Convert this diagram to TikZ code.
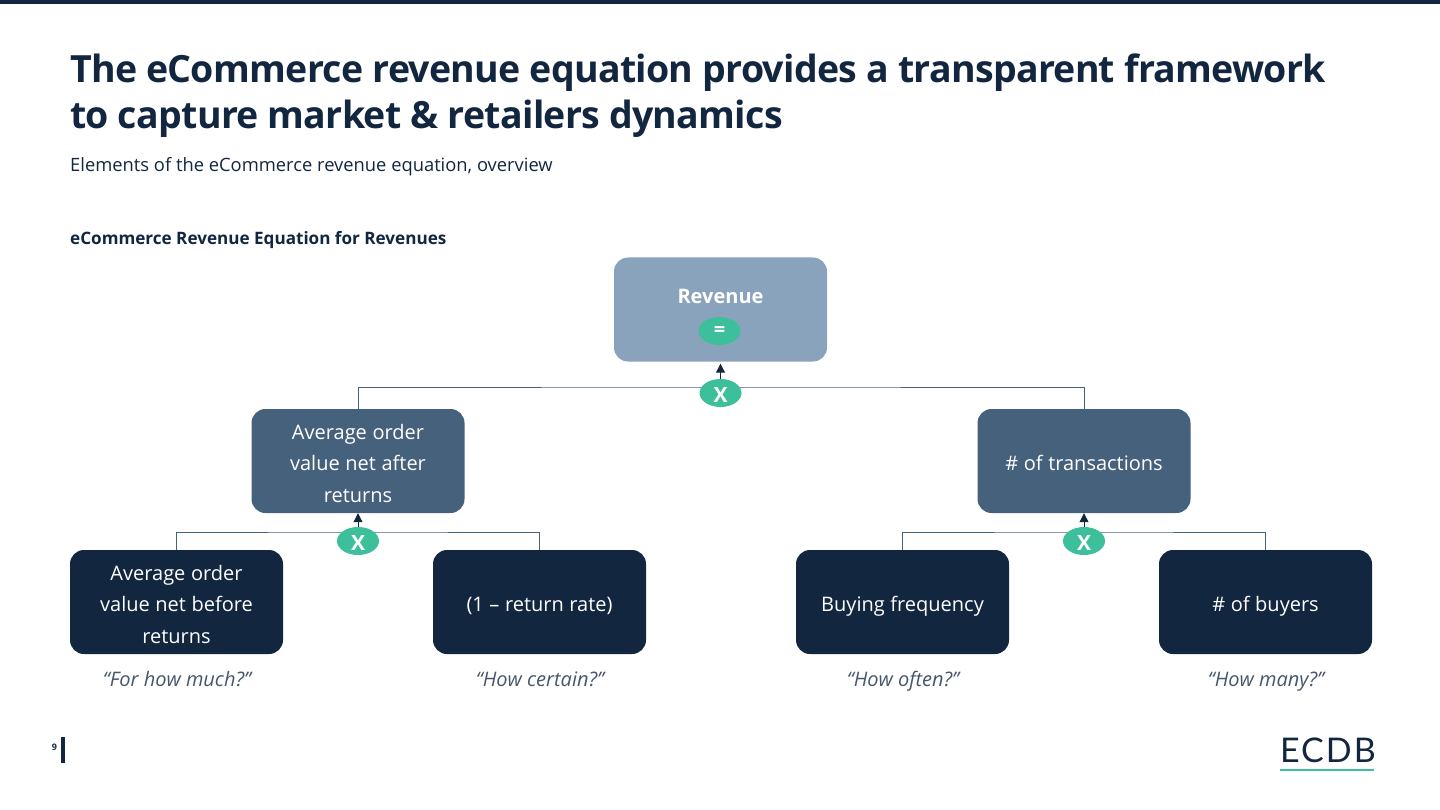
\documentclass[tikz,border=0pt]{standalone}
\usepackage{fontspec}
\setmainfont{Open Sans}
\newfontfamily\logofont[LetterSpace=6]{Lato}
\usetikzlibrary{shapes.geometric,positioning,backgrounds,arrows.meta}
\definecolor{ecdbdark}{HTML}{12263F}
\definecolor{ecdbmid}{HTML}{46617C}
\definecolor{ecdblight}{HTML}{8AA3BC}
\definecolor{ecdbgreen}{HTML}{3EBF9B}
\definecolor{ecdbquote}{HTML}{46566B}
\tikzset{
  box/.style={rectangle, rounded corners=14pt, minimum width=213pt, minimum height=104pt, inner sep=0pt},
  topbox/.style={box, fill=ecdblight},
  midbox/.style={box, fill=ecdbmid},
  lowbox/.style={box, fill=ecdbdark},
  boxtext/.style={text=white, align=center, inner sep=0pt, yshift=-2pt,
    execute at begin node={\spaceskip=5.6pt\relax}, font=\fontsize{20}{31.5}\selectfont},
  boxline/.style={boxtext, yshift=-2.5pt, text height=15pt, text depth=5pt},
  opnode/.style={ellipse, fill=ecdbgreen, text=white, minimum width=42pt, minimum height=28pt, inner sep=0pt,
    font=\fontsize{20}{20}\selectfont\bfseries},
  xnode/.style={opnode, font=\fontsize{21}{21}\selectfont\bfseries, text height=18pt, text depth=0pt},
  quote/.style={text=ecdbquote, text height=15pt, text depth=5pt, font=\fontsize{20}{24}\selectfont\itshape},
  link/.style={draw=ecdbmid, line width=0.9pt},
  uparrow/.style={draw=ecdbdark, line width=1pt, -{Triangle[length=9pt,width=9pt]}}
}
\begin{document}
\begin{tikzpicture}[x=1pt, y=-1pt]
\useasboundingbox (0,0) rectangle (1440,810);
\fill[ecdbdark] (0,0) rectangle (1440,4);

\node[anchor=west, inner sep=0pt, text=ecdbdark, align=left, font=\fontsize{37.5}{46}\selectfont\bfseries\addfontfeature{LetterSpace=-1.9}] (title) at (70,95.5)
  {The eCommerce revenue equation provides a transparent framework\\to capture market \& retailers dynamics};
\node[anchor=west, inner sep=0pt, text=ecdbdark, font=\fontsize{18.35}{22}\selectfont] (subtitle) at (70,167)
  {Elements of the eCommerce revenue equation, overview};
\node[anchor=west, inner sep=0pt, text=ecdbdark, font=\fontsize{17.1}{20}\selectfont\bfseries] (heading) at (70,240)
  {eCommerce Revenue Equation for Revenues};

\node[topbox] (revenue) at (720.5,309.5) {};
\node[midbox] (aov) at (358,461) {};
\node[midbox] (trans) at (1084,461) {};
\node[lowbox] (before) at (176.5,602) {};
\node[lowbox] (rate) at (539.5,602) {};
\node[lowbox] (freq) at (902.5,602) {};
\node[lowbox] (buyers) at (1265.5,602) {};

\node[text=white, font=\fontsize{20}{24}\selectfont\bfseries] (revlabel) at (720.5,296) {Revenue};
\node[boxtext] (aovtext) at (aov) {Average order\\value net after\\returns};
\node[boxline] (transtext) at (trans) {\# of transactions};
\node[boxtext] (beforetext) at (before) {Average order\\value net before\\returns};
\node[boxline] (ratetext) at (rate) {(1 – return rate)};
\node[boxline] (freqtext) at (freq) {Buying frequency};
\node[boxline] (buyerstext) at (buyers) {\# of buyers};

\node[opnode] (equals) at (719.5,331) {=};
\node[xnode] (xtop) at (720.5,393) {X};
\node[xnode] (xleft) at (358,541) {X};
\node[xnode] (xright) at (1084,541) {X};

\coordinate (jtop) at (720.5,387);
\coordinate (jleft) at (358,532);
\coordinate (jright) at (1084,532);

\begin{scope}[on background layer]
  \draw[link] (aov.north) |- (jtop) -| (trans.north);
  \draw[link] (before.north) |- (jleft) -| (rate.north);
  \draw[link] (freq.north) |- (jright) -| (buyers.north);
\end{scope}
\draw[uparrow, shorten >=2pt] (xtop.north) -- (xtop.north |- revenue.south);
\draw[uparrow] (xleft.north) -- (aov.south);
\draw[uparrow] (xright.north) -- (trans.south);

\node[quote] (qbefore) at (177,681.5) {“For how much?”};
\node[quote] (qrate) at (540,681.5) {“How certain?”};
\node[quote] (qfreq) at (903,681.5) {“How often?”};
\node[quote] (qbuyers) at (1266,681.5) {“How many?”};

\node[text=ecdbdark, font=\fontsize{9}{10}\selectfont\bfseries] (page) at (54.5,747) {9};
\fill[ecdbdark] (60.5,736.5) rectangle (64.5,762.5);
\node[anchor=east, inner sep=0pt, text=ecdbdark, font=\fontsize{34}{36}\logofont] (logo) at (1376,750) {ECDB};
\fill[ecdbgreen] (1280,768.5) rectangle (1373.5,771);
\end{tikzpicture}
\end{document}
